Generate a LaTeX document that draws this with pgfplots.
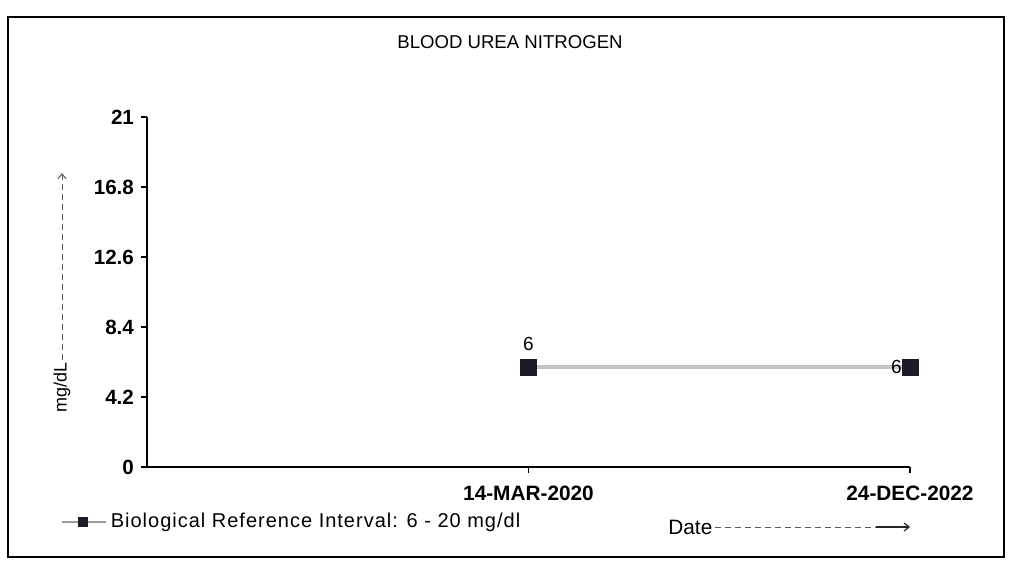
\documentclass[border=0pt]{standalone}
\usepackage{fontspec}
\setmainfont{Liberation Sans}
\usepackage{pgfplots}
\pgfplotsset{compat=1.18}
\usetikzlibrary{arrows.meta}
\definecolor{mk}{HTML}{1C1C28}
\definecolor{ln}{HTML}{C4C4C4}
\begin{document}
\begin{tikzpicture}[x=1pt,y=1pt]
\path (0,0) rectangle (506,281.5);
\draw[line width=0.7pt] (4,3) rectangle (502,273);
\begin{axis}[
  at={(73.5pt,48pt)}, anchor=south west,
  scale only axis, width=381.5pt, height=175pt,
  xmin=0, xmax=2, ymin=0, ymax=21,
  axis x line=bottom, axis y line=left,
  axis line style={-, line width=0.6pt},
  tick align=outside, major tick length=3pt,
  tick style={black, line width=0.6pt},
  /pgf/number format/assume math mode=true,
  xtick={1,2}, xticklabels={14-MAR-2020,24-DEC-2022},
  ytick={0,4.2,8.4,12.6,16.8,21},
  yticklabels={0,4.2,8.4,12.6,16.8,21},
  ticklabel style={font=\fontsize{10.3}{12}\selectfont\bfseries},
  xticklabel style={yshift=-3pt, font=\fontsize{10.4}{12}\selectfont\bfseries},
  clip=false,
  legend style={at={(-0.114,-0.157)}, anchor=west, draw=none, fill=none,
    font=\fontsize{10}{12}\selectfont\addfontfeatures{LetterSpace=5}, inner sep=0pt},
  legend cell align=left,
  legend image code/.code={
    \draw[ln!80!black, line width=1.2pt] (0pt,0pt) -- (22pt,0pt);
    \fill[mk] (9.2pt,-1.5pt) rectangle (12.2pt,1.5pt);
  },
]
\addplot[ln, line width=2pt, mark=square*, mark size=4pt,
  mark options={mk, fill=mk, line width=0pt}]
  coordinates {(1,6) (2,6)};
\addlegendentry{Biological Reference Interval: 6 - 20 mg/dl}
\addplot[draw=none, forget plot, nodes near coords,
  every node near coord/.append style={anchor=south, font=\fontsize{9.5}{11}\selectfont, text=black, inner sep=8pt}]
  coordinates {(1,6)};
\addplot[draw=none, forget plot, nodes near coords,
  every node near coord/.append style={anchor=east, font=\fontsize{9.5}{11}\selectfont, text=black, inner sep=4pt}]
  coordinates {(2,6)};
\end{axis}
\node[font=\fontsize{9.3}{11}\selectfont] at (255,260.5) {BLOOD UREA NITROGEN};
\node[rotate=90, font=\fontsize{9}{11}\selectfont, anchor=west, inner sep=1pt] at (31,74) (ml) {mg/dL};
\draw[densely dashed, gray!70!black, line width=0.5pt, -{Straight Barb[length=2.5pt,width=4pt]}] (ml.east) -- (31,195);
\node[font=\fontsize{10.4}{12}\selectfont, anchor=west, inner sep=1pt] at (333,18) (dl) {Date};
\draw[densely dashed, gray!70!black, line width=0.5pt] (dl.east) -- (438,18);
\draw[gray!30!black, line width=0.6pt, -{Straight Barb[length=2.5pt,width=4pt]}] (438,18) -- (455,18);
\end{tikzpicture}
\end{document}
